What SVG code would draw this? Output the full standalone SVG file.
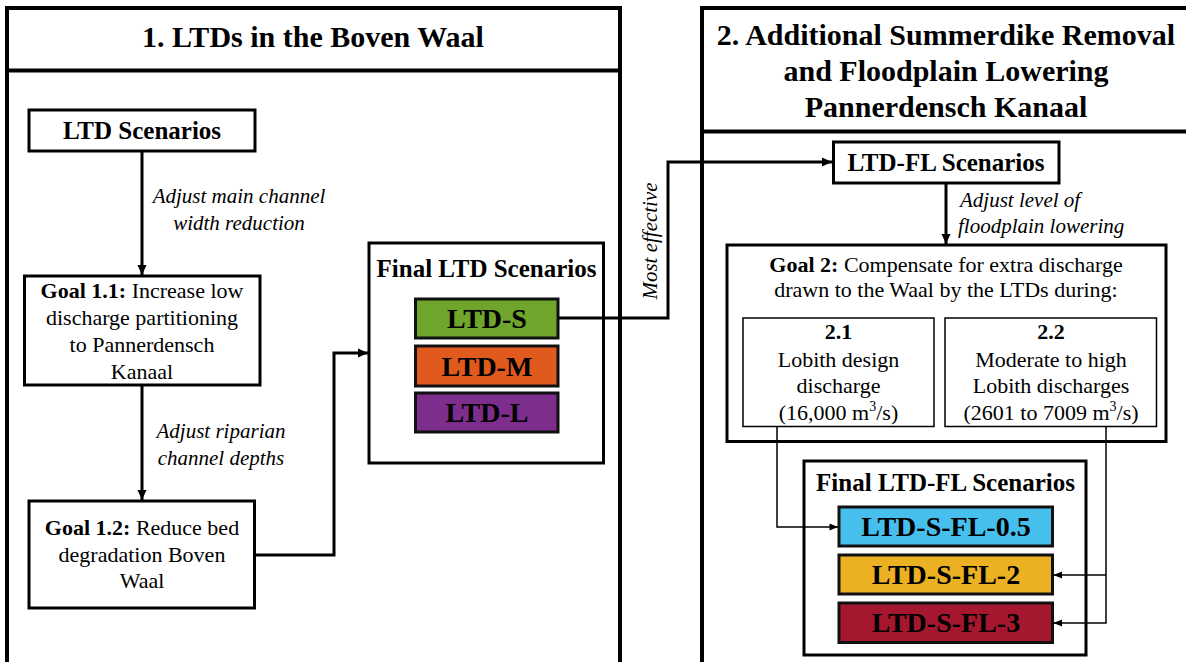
<svg xmlns="http://www.w3.org/2000/svg" width="1186" height="662" viewBox="0 0 1186 662">
<defs>
<style>
text{font-family:"Liberation Serif","Times New Roman",serif;fill:#000;text-anchor:middle}
.panel{fill:#fff;stroke:#000;stroke-width:4}
.box{fill:#fff;stroke:#000;stroke-width:3}
.sub{fill:#fff;stroke:#000;stroke-width:1.5}
.scn{stroke:#111;stroke-width:3}
.ttl{font-size:30px;font-weight:bold}
.hd{font-size:25px;font-weight:bold}
.bd{font-size:22px}
.it{font-size:21px;font-style:italic}
.sc{font-size:28px;font-weight:bold}
.c{fill:none;stroke:#000;stroke-width:3}
.ct{fill:none;stroke:#000;stroke-width:1.5}
</style>
<marker id="ah" markerUnits="userSpaceOnUse" markerWidth="12" markerHeight="12" viewBox="0 0 12 12" refX="11" refY="6" orient="auto"><path d="M1,1.5 L11,6 L1,10.5 Z" fill="#000"/></marker>
<marker id="ahs" markerUnits="userSpaceOnUse" markerWidth="10" markerHeight="10" viewBox="0 0 10 10" refX="9.5" refY="5" orient="auto"><path d="M1,1.5 L9.5,5 L1,8.5 Z" fill="#000"/></marker>
</defs>
<rect width="1186" height="662" fill="#fff"/>

<g id="panel1">
<rect class="panel" x="7" y="8" width="613" height="657"/>
<line x1="7" y1="70.5" x2="620" y2="70.5" stroke="#000" stroke-width="4"/>
<text class="ttl" x="313" y="47">1. LTDs in the Boven Waal</text>
</g>

<g id="panel2">
<rect class="panel" x="702" y="8" width="500" height="657"/>
<line x1="702" y1="131.5" x2="1190" y2="131.5" stroke="#000" stroke-width="4"/>
<text class="ttl" x="946" y="45">2. Additional Summerdike Removal</text>
<text class="ttl" x="946" y="81">and Floodplain Lowering</text>
<text class="ttl" x="946" y="117">Pannerdensch Kanaal</text>
</g>

<g id="ltd-scenarios">
<rect class="box" x="29" y="110" width="226" height="41"/>
<text class="hd" x="142" y="139">LTD Scenarios</text>
</g>

<g id="goal-1-1">
<rect class="box" x="24.5" y="276" width="235.5" height="109"/>
<text class="bd" x="142" y="298"><tspan font-weight="bold">Goal 1.1:</tspan> Increase low</text>
<text class="bd" x="142" y="325">discharge partitioning</text>
<text class="bd" x="142" y="352">to Pannerdensch</text>
<text class="bd" x="142" y="379">Kanaal</text>
</g>

<g id="goal-1-2">
<rect class="box" x="29" y="501" width="225.5" height="107"/>
<text class="bd" x="142" y="535"><tspan font-weight="bold">Goal 1.2:</tspan> Reduce bed</text>
<text class="bd" x="142" y="562">degradation Boven</text>
<text class="bd" x="142" y="588">Waal</text>
</g>

<g id="final-ltd">
<rect class="box" x="369" y="243" width="234.5" height="220"/>
<text class="hd" x="486.5" y="277">Final LTD Scenarios</text>
</g>
<g id="ltd-s">
<rect class="scn" x="415.5" y="299" width="142.5" height="39" fill="#6fa52a"/>
<text class="sc" x="487" y="328">LTD-S</text>
</g>
<g id="ltd-m">
<rect class="scn" x="415.5" y="346" width="142.5" height="40" fill="#e05a1e"/>
<text class="sc" x="487" y="376">LTD-M</text>
</g>
<g id="ltd-l">
<rect class="scn" x="415.5" y="393" width="142.5" height="39" fill="#7d2d8c"/>
<text class="sc" x="487" y="422">LTD-L</text>
</g>

<g id="ltd-fl-scenarios">
<rect class="box" x="833.5" y="142" width="225.5" height="41"/>
<text class="hd" x="946" y="171">LTD-FL Scenarios</text>
</g>

<g id="goal-2">
<rect class="box" x="727" y="245" width="439" height="196.5"/>
<text class="bd" x="946" y="272"><tspan font-weight="bold">Goal 2:</tspan> Compensate for extra discharge</text>
<text class="bd" x="946" y="297">drawn to the Waal by the LTDs during:</text>
</g>
<g id="goal-2-1">
<rect class="sub" x="743" y="318" width="191" height="108.5"/>
<text class="bd" x="838.5" y="339" font-weight="bold">2.1</text>
<text class="bd" x="838.5" y="367">Lobith design</text>
<text class="bd" x="838.5" y="393">discharge</text>
<text class="bd" x="838.5" y="420">(16,000 m<tspan dy="-9" font-size="14">3</tspan><tspan dy="9">/s)</tspan></text>
</g>
<g id="goal-2-2">
<rect class="sub" x="945" y="318" width="211.5" height="108.5"/>
<text class="bd" x="1051" y="339" font-weight="bold">2.2</text>
<text class="bd" x="1051" y="367">Moderate to high</text>
<text class="bd" x="1051" y="393">Lobith discharges</text>
<text class="bd" x="1051" y="420">(2601 to 7009 m<tspan dy="-9" font-size="14">3</tspan><tspan dy="9">/s)</tspan></text>
</g>

<g id="final-ltd-fl">
<rect class="box" x="804" y="461" width="282" height="194"/>
<text class="hd" x="945.5" y="491">Final LTD-FL Scenarios</text>
</g>
<g id="ltd-s-fl-05">
<rect class="scn" x="839" y="507" width="213.5" height="39" fill="#47bfec"/>
<text class="sc" x="946" y="536">LTD-S-FL-0.5</text>
</g>
<g id="ltd-s-fl-2">
<rect class="scn" x="839" y="555" width="213.5" height="39" fill="#ecb122"/>
<text class="sc" x="946" y="584">LTD-S-FL-2</text>
</g>
<g id="ltd-s-fl-3">
<rect class="scn" x="839" y="603" width="213.5" height="39.5" fill="#a5172f"/>
<text class="sc" x="946" y="632">LTD-S-FL-3</text>
</g>

<g id="connectors">
<path class="c" d="M142,151 V275" marker-end="url(#ah)"/>
<path class="c" d="M142,385 V500" marker-end="url(#ah)"/>
<path class="c" d="M254.5,555 H334 V353 H368" marker-end="url(#ah)"/>
<path class="c" d="M558,318 H668 V162 H832" marker-end="url(#ah)"/>
<path class="c" d="M946,183 V244" marker-end="url(#ah)"/>
<path class="ct" d="M777,426.5 V527 H838" marker-end="url(#ahs)"/>
<path class="ct" d="M1106,426.5 V623 H1053.5" marker-end="url(#ahs)"/>
<path class="ct" d="M1106,575 H1053.5" marker-end="url(#ahs)"/>
<text class="it" x="239" y="203">Adjust main channel</text>
<text class="it" x="239" y="230">width reduction</text>
<text class="it" x="221" y="438">Adjust riparian</text>
<text class="it" x="221" y="465">channel depths</text>
<text class="it" x="960" y="207" style="text-anchor:start">Adjust level of</text>
<text class="it" x="958" y="233" style="text-anchor:start">floodplain lowering</text>
<text class="it" transform="translate(657,241) rotate(-90)" x="0" y="0">Most effective</text>
</g>
</svg>
